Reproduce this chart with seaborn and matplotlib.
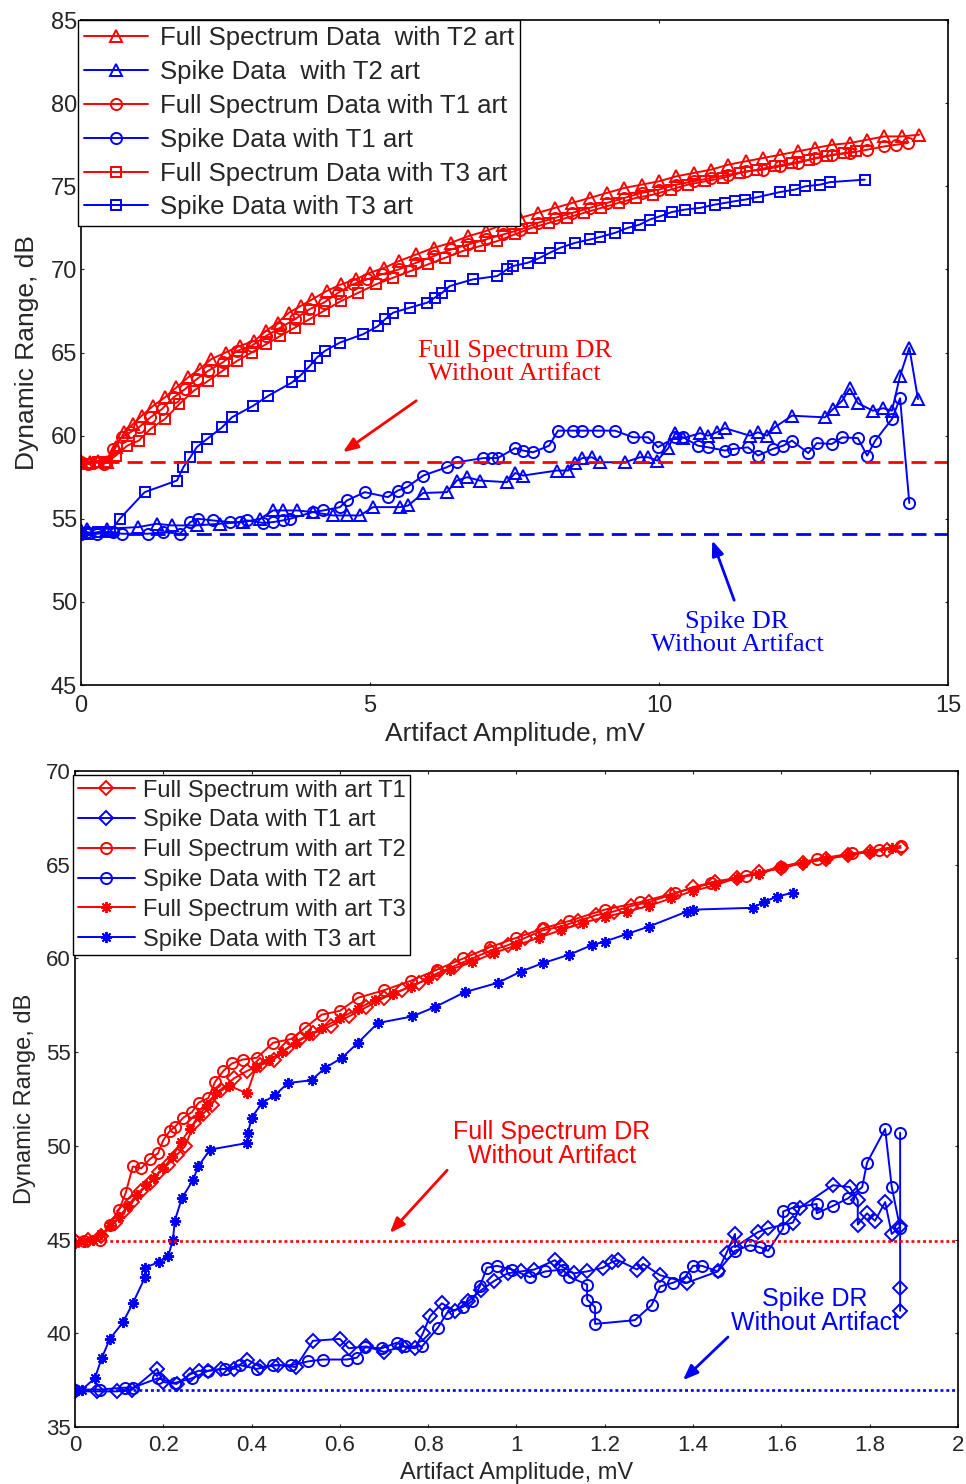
import matplotlib
matplotlib.use("Agg")
import matplotlib.pyplot as plt
import seaborn as sns
from matplotlib.ticker import FuncFormatter

# ---------------- data: top panel (artifact up to 15 mV) ----------------
top_fs_t2_x = [0, 0.15, 0.3, 0.45, 0.6, 0.75, 0.9, 1.05, 1.25, 1.45, 1.65, 1.85, 2.05, 2.25, 2.5, 2.75, 3.0, 3.2, 3.4, 3.6,
               3.8, 4.0, 4.25, 4.5, 4.75, 5.0, 5.25, 5.5, 5.8, 6.1, 6.4, 6.7, 7.0, 7.3, 7.6, 7.9, 8.2, 8.5, 8.8, 9.1,
               9.4, 9.7, 10.0, 10.3, 10.6, 10.9, 11.2, 11.5, 11.8, 12.1, 12.4, 12.7, 13.0, 13.3, 13.6, 13.9, 14.2, 14.5]
top_fs_t2_y = [58.5, 58.4, 58.5, 58.4, 59.3, 60.2, 60.7, 61.2, 61.8, 62.3, 62.9, 63.5, 64.0, 64.6, 65.0, 65.4, 65.7, 66.3, 66.8, 67.4,
               67.8, 68.2, 68.7, 69.1, 69.4, 69.8, 70.1, 70.5, 70.9, 71.3, 71.6, 72.0, 72.3, 72.7, 73.1, 73.4, 73.7, 74.0, 74.3, 74.6,
               74.9, 75.1, 75.3, 75.6, 75.8, 76.0, 76.3, 76.5, 76.7, 76.9, 77.1, 77.3, 77.5, 77.6, 77.8, 78.0, 78.0, 78.1]

top_sp_t2_x = [0, 0.1, 0.45, 0.99, 1.31, 1.57, 2.0, 2.4, 2.8, 3.1, 3.32, 3.49, 3.74, 4.01, 4.36, 4.6, 4.83, 5.05, 5.52, 5.66,
               5.92, 6.33, 6.5, 6.68, 6.9, 7.37, 7.51, 7.65, 8.23, 8.43, 8.55, 8.67, 8.84, 8.98, 9.41, 9.67, 9.81, 9.97, 10.16, 10.28,
               10.42, 10.71, 10.85, 11.0, 11.14, 11.57, 11.71, 11.87, 12.0, 12.3, 12.87, 13.01, 13.17, 13.3, 13.44, 13.7, 13.88, 14.03,
               14.17, 14.33, 14.48]
top_sp_t2_y = [54.3, 54.4, 54.4, 54.5, 54.7, 54.6, 54.6, 54.7, 54.8, 55.0, 55.5, 55.5, 55.5, 55.4, 55.2, 55.2, 55.2, 55.7, 55.7, 55.8,
               56.55, 56.6, 57.3, 57.5, 57.3, 57.2, 57.75, 57.6, 57.9, 57.9, 58.35, 58.65, 58.7, 58.4, 58.4, 58.7, 58.7, 58.5, 59.25, 60.15,
               59.85, 60.15, 60.0, 60.2, 60.45, 60.0, 60.2, 60.0, 60.5, 61.2, 61.1, 61.6, 62.1, 62.85, 61.95, 61.5, 61.65, 61.5,
               63.6, 65.3, 62.2]

top_fs_t1_x = [0, 0.12, 0.25, 0.4, 0.55, 0.7, 0.85, 1.0, 1.2, 1.4, 1.6, 1.8, 2.0, 2.2, 2.45, 2.7, 2.95, 3.2, 3.45, 3.7,
               3.95, 4.2, 4.45, 4.7, 4.95, 5.2, 5.5, 5.8, 6.1, 6.4, 6.7, 7.0, 7.3, 7.6, 7.9, 8.2, 8.5, 8.8, 9.1, 9.4,
               9.7, 10.0, 10.3, 10.6, 10.9, 11.2, 11.5, 11.8, 12.1, 12.4, 12.7, 13.0, 13.3, 13.6, 13.9, 14.1, 14.3]
top_fs_t1_y = [58.4, 58.3, 58.4, 58.3, 59.2, 59.9, 60.2, 60.5, 61.1, 61.6, 62.3, 62.8, 63.4, 63.9, 64.4, 65.1, 65.4, 66.0, 66.5, 67.0,
               67.6, 68.0, 68.6, 69.1, 69.4, 69.7, 70.0, 70.4, 70.8, 71.2, 71.5, 71.8, 72.1, 72.4, 72.8, 73.1, 73.4, 73.7, 74.0, 74.3,
               74.6, 74.8, 75.1, 75.3, 75.5, 75.7, 75.9, 76.0, 76.2, 76.4, 76.7, 76.9, 77.0, 77.2, 77.4, 77.5, 77.6]

top_sp_t1_x = [0, 0.1, 0.28, 0.55, 0.7, 1.16, 1.42, 1.71, 1.89, 2.02, 2.28, 2.58, 2.75, 2.87, 3.15, 3.32, 3.49, 3.62, 4.01, 4.19,
               4.48, 4.6, 4.91, 5.31, 5.48, 5.64, 5.92, 6.33, 6.5, 6.96, 7.11, 7.21, 7.51, 7.65, 7.82, 8.1, 8.25, 8.51, 8.67, 8.94,
               9.24, 9.55, 9.81, 9.98, 10.28, 10.42, 10.67, 10.85, 11.14, 11.28, 11.54, 11.71, 11.97, 12.15, 12.3, 12.58, 12.73, 12.99,
               13.17, 13.44, 13.6, 13.74, 14.03, 14.17, 14.33]
top_sp_t1_y = [54.1, 54.2, 54.1, 54.2, 54.1, 54.1, 54.2, 54.1, 54.8, 55.0, 54.9, 54.8, 54.8, 54.9, 54.75, 54.8, 54.9, 55.0, 55.4, 55.5,
               55.7, 56.1, 56.6, 56.3, 56.7, 56.9, 57.6, 58.1, 58.4, 58.65, 58.65, 58.65, 59.25, 59.1, 59.0, 59.4, 60.3, 60.3, 60.3, 60.3,
               60.3, 59.9, 59.9, 59.3, 59.9, 59.9, 59.4, 59.3, 59.1, 59.2, 59.3, 58.8, 59.2, 59.4, 59.7, 58.95, 59.55, 59.5,
               59.9, 59.85, 58.8, 59.7, 61.0, 62.25, 55.95]

top_fs_t3_x = [0, 0.15, 0.3, 0.45, 0.6, 0.8, 1.0, 1.2, 1.45, 1.7, 1.95, 2.2, 2.45, 2.7, 2.95, 3.2, 3.45, 3.7, 3.95, 4.2,
               4.5, 4.8, 5.1, 5.4, 5.7, 6.0, 6.3, 6.6, 6.9, 7.2, 7.5, 7.8, 8.1, 8.4, 8.7, 9.0, 9.3, 9.6, 9.9, 10.2,
               10.5, 10.8, 11.1, 11.4, 11.7, 12.0, 12.3, 12.6, 12.9, 13.2, 13.4]
top_fs_t3_y = [58.3, 58.3, 58.4, 58.4, 58.8, 59.4, 59.7, 60.4, 61.0, 61.9, 62.7, 63.3, 63.9, 64.5, 65.0, 65.5, 66.0, 66.5, 67.0, 67.5,
               68.1, 68.6, 69.1, 69.5, 69.9, 70.3, 70.7, 71.1, 71.4, 71.7, 72.1, 72.5, 72.8, 73.1, 73.4, 73.7, 74.0, 74.3, 74.5, 74.8,
               75.1, 75.3, 75.5, 75.8, 76.0, 76.2, 76.4, 76.6, 76.8, 77.0, 77.1]

top_sp_t3_x = [0, 0.12, 0.3, 0.5, 0.67, 1.1, 1.66, 1.77, 1.89, 2.0, 2.18, 2.44, 2.61, 2.98, 3.24, 3.65, 3.79, 3.96, 4.08, 4.22,
               4.48, 4.88, 5.14, 5.26, 5.4, 5.69, 5.99, 6.12, 6.25, 6.38, 6.78, 7.2, 7.37, 7.47, 7.73, 7.94, 8.11, 8.29, 8.55, 8.81,
               8.98, 9.24, 9.46, 9.67, 9.84, 10.02, 10.22, 10.45, 10.71, 10.97, 11.14, 11.31, 11.49, 11.71, 12.09, 12.35, 12.53, 12.79,
               12.96, 13.56]
top_sp_t3_y = [54.1, 54.1, 54.2, 54.2, 55.0, 56.6, 57.3, 58.1, 58.7, 59.3, 59.8, 60.5, 61.1, 61.8, 62.4, 63.2, 63.6, 64.2, 64.7, 65.1,
               65.6, 66.1, 66.6, 67.0, 67.4, 67.7, 68.0, 68.3, 68.6, 69.0, 69.4, 69.6, 70.0, 70.2, 70.4, 70.7, 71.0, 71.3, 71.6, 71.8,
               71.95, 72.2, 72.5, 72.7, 73.0, 73.2, 73.45, 73.6, 73.7, 73.9, 74.0, 74.1, 74.2, 74.35, 74.65, 74.8, 75.0, 75.1,
               75.25, 75.4]

top_labels = ["Full Spectrum Data  with T2 art", "Spike Data  with T2 art",
              "Full Spectrum Data with T1 art", "Spike Data with T1 art",
              "Full Spectrum Data with T3 art", "Spike Data with T3 art"]
top_fs_baseline = 58.4
top_sp_baseline = 54.1
top_xticks = [0, 5, 10, 15]
top_yticks = [45, 50, 55, 60, 65, 70, 75, 80, 85]

# ---------------- data: bottom panel (artifact up to 2 mV) ----------------
bot_fs_t1_x = [0.0, 0.03, 0.06, 0.09, 0.11, 0.13, 0.15, 0.17, 0.19, 0.21, 0.23, 0.25, 0.27, 0.29, 0.31, 0.33, 0.36, 0.39, 0.42, 0.45,
               0.48, 0.51, 0.54, 0.58, 0.62, 0.66, 0.70, 0.74, 0.78, 0.82, 0.86, 0.90, 0.94, 0.98, 1.02, 1.06, 1.10, 1.14, 1.18, 1.22,
               1.26, 1.30, 1.35, 1.40, 1.45, 1.50, 1.55, 1.60, 1.65, 1.70, 1.75, 1.80, 1.84, 1.87]
bot_fs_t1_y = [44.9, 45.0, 45.2, 45.9, 46.5, 47.0, 47.6, 48.0, 48.6, 49.0, 49.5, 50.0, 51.2, 51.7, 52.2, 53.0, 53.6, 54.0, 54.3, 54.6,
               55.2, 55.7, 56.0, 56.4, 56.9, 57.4, 57.9, 58.3, 58.7, 59.2, 59.6, 60.0, 60.4, 60.7, 61.1, 61.5, 61.7, 62.0, 62.3, 62.5,
               62.8, 63.0, 63.4, 63.8, 64.1, 64.3, 64.6, 64.8, 65.1, 65.3, 65.5, 65.7, 65.8, 65.9]

bot_sp_t1_x = [0.0, 0.05, 0.095, 0.13, 0.186, 0.2, 0.23, 0.26, 0.28, 0.302, 0.33, 0.36, 0.39, 0.42, 0.46, 0.5, 0.539, 0.6, 0.62, 0.66,
               0.7, 0.74, 0.77, 0.788, 0.804, 0.831, 0.86, 0.89, 0.92, 0.95, 0.98, 1.01, 1.04, 1.087, 1.1, 1.13, 1.16, 1.196, 1.216, 1.23,
               1.273, 1.287, 1.325, 1.386, 1.456, 1.476, 1.495, 1.495, 1.547, 1.57, 1.626, 1.642, 1.717, 1.755, 1.773, 1.773, 1.794,
               1.812, 1.835, 1.85, 1.869, 1.869, 1.869]
bot_sp_t1_y = [36.9, 36.9, 36.9, 37.0, 38.1, 37.4, 37.3, 37.8, 38.0, 38.0, 38.1, 38.1, 38.6, 38.2, 38.3, 38.2, 39.6, 39.7, 39.2, 39.3,
               39.0, 39.3, 39.2, 40.0, 40.9, 41.6, 41.2, 41.7, 42.3, 42.8, 43.2, 43.3, 43.4, 43.9, 43.6, 43.2, 43.3, 43.5, 43.8, 43.9,
               43.4, 43.7, 43.1, 42.7, 43.3, 44.3, 45.3, 44.6, 45.4, 45.6, 45.9, 46.7, 47.9, 47.8, 47.1, 45.8, 46.4,
               46.0, 47.0, 45.3, 45.7, 42.4, 41.2]

bot_fs_t2_x = [0.0, 0.02, 0.057, 0.08, 0.1, 0.115, 0.131, 0.15, 0.17, 0.188, 0.2, 0.215, 0.226, 0.245, 0.265, 0.28, 0.302, 0.317, 0.336,
               0.356, 0.38, 0.412, 0.449, 0.49, 0.521, 0.559, 0.6, 0.641, 0.7, 0.76, 0.82, 0.88, 0.94, 1.0, 1.06, 1.12, 1.2, 1.28,
               1.36, 1.44, 1.52, 1.6, 1.68, 1.76, 1.82, 1.87]
bot_fs_t2_y = [44.9, 44.9, 45.0, 45.8, 46.6, 47.5, 48.9, 48.8, 49.3, 49.6, 50.3, 50.8, 51.0, 51.5, 51.8, 52.3, 52.55, 53.4, 54.0,
               54.4, 54.6, 54.7, 55.5, 55.7, 56.3, 57.0, 57.2, 57.9, 58.3, 58.8, 59.4, 60.0, 60.6, 61.1, 61.6, 62.0, 62.6, 63.0,
               63.5, 64.0, 64.4, 64.9, 65.3, 65.6, 65.8, 66.0]

bot_sp_t2_x = [0.0, 0.057, 0.113, 0.131, 0.188, 0.226, 0.265, 0.302, 0.34, 0.374, 0.412, 0.449, 0.49, 0.528, 0.562, 0.616, 0.639, 0.657,
               0.695, 0.729, 0.747, 0.786, 0.822, 0.843, 0.879, 0.899, 0.917, 0.933, 0.956, 0.99, 1.03, 1.065, 1.105, 1.12, 1.16, 1.16,
               1.178, 1.178, 1.268, 1.306, 1.325, 1.355, 1.382, 1.4, 1.42, 1.456, 1.495, 1.529, 1.551, 1.57, 1.604, 1.604, 1.626, 1.68,
               1.68, 1.717, 1.751, 1.783, 1.794, 1.835, 1.85, 1.869, 1.869]
bot_sp_t2_y = [37.0, 37.0, 37.1, 37.1, 37.6, 37.35, 37.6, 38.0, 38.1, 38.3, 38.1, 38.3, 38.3, 38.5, 38.6, 38.6, 38.7, 39.25,
               39.2, 39.5, 39.3, 39.3, 40.3, 41.1, 41.4, 41.7, 42.5, 43.5, 43.6, 43.4, 43.0, 43.3, 43.4, 43.0, 42.6, 41.8,
               41.4, 40.5, 40.7, 41.5, 42.5, 42.7, 43.0, 43.6, 43.6, 43.3, 44.4, 44.7, 44.6, 44.4, 45.6, 46.5, 46.7, 46.9,
               46.4, 46.8, 47.2, 47.8, 49.1, 50.9, 47.8, 45.6, 50.7]

bot_fs_t3_x = [0.0, 0.02, 0.04, 0.06, 0.08, 0.1, 0.12, 0.14, 0.16, 0.18, 0.2, 0.22, 0.24, 0.26, 0.28, 0.3, 0.32, 0.35, 0.39, 0.41,
               0.44, 0.47, 0.5, 0.53, 0.56, 0.6, 0.64, 0.68, 0.72, 0.76, 0.8, 0.85, 0.9, 0.95, 1.0, 1.05, 1.1, 1.15, 1.2, 1.25,
               1.3, 1.35, 1.4, 1.45, 1.5, 1.55, 1.6, 1.65, 1.7, 1.75, 1.8, 1.85]
bot_fs_t3_y = [44.8, 44.9, 45.0, 45.3, 45.7, 46.2, 46.8, 47.4, 47.9, 48.3, 48.8, 49.4, 50.2, 50.9, 51.6, 52.2, 52.8, 53.2, 52.8, 54.2,
               54.6, 55.0, 55.5, 55.9, 56.3, 56.8, 57.3, 57.8, 58.1, 58.5, 58.9, 59.4, 59.8, 60.3, 60.7, 61.1, 61.5, 61.9, 62.2, 62.5,
               62.8, 63.2, 63.6, 63.9, 64.3, 64.5, 64.9, 65.1, 65.3, 65.5, 65.7, 65.9]

bot_sp_t3_x = [0.0, 0.016, 0.045, 0.061, 0.079, 0.109, 0.131, 0.159, 0.159, 0.19, 0.211, 0.222, 0.226, 0.242, 0.268, 0.279, 0.306,
               0.39, 0.392, 0.4, 0.424, 0.453, 0.482, 0.536, 0.566, 0.605, 0.641, 0.686, 0.763, 0.815, 0.883, 0.958, 1.01, 1.06,
               1.12, 1.17, 1.2, 1.25, 1.3, 1.386, 1.4, 1.536, 1.56, 1.59, 1.626]
bot_sp_t3_y = [36.9, 37.0, 37.6, 38.7, 39.7, 40.6, 41.6, 43.0, 43.5, 43.8, 44.1, 45.0, 46.0, 47.2, 48.2, 48.9, 49.8,
               50.15, 50.7, 51.5, 52.3, 52.7, 53.35, 53.5, 54.15, 54.7, 55.5, 56.55, 56.9, 57.4, 58.2, 58.7, 59.3, 59.75,
               60.2, 60.7, 60.9, 61.3, 61.7, 62.5, 62.6, 62.7, 63.0, 63.3, 63.5]

bot_labels = ["Full Spectrum with art T1", "Spike Data with T1 art",
              "Full Spectrum with art T2", "Spike Data with T2 art",
              "Full Spectrum with art T3", "Spike Data with T3 art"]
bot_fs_baseline = 44.95
bot_sp_baseline = 36.95
bot_xticks = [0, 0.2, 0.4, 0.6, 0.8, 1, 1.2, 1.4, 1.6, 1.8, 2]
bot_yticks = [35, 40, 45, 50, 55, 60, 65, 70]

# ---------------- style ----------------
sns.set_style("ticks")
plt.rcParams['font.family'] = ['Liberation Sans', 'DejaVu Sans']

RED = "#FF0000"
BLUE = "#0000FF"
ASTERISK = (8, 2, 0)  # matlab-style '*' marker


def draw_series(ax, x, y, color, marker, label, ms=8):
    sns.lineplot(x=x, y=y, ax=ax, sort=False, estimator=None, color=color, marker=marker,
                 markersize=ms, markerfacecolor='none', markeredgecolor=color,
                 markeredgewidth=1.4, linewidth=1.4, label=label, legend=False)


def style_axes(ax, xticks, yticks, tick_fs, label_fs, xpad, ylabpad):
    ax.set_xticks(xticks)
    ax.set_yticks(yticks)
    ax.set_xlim(xticks[0], xticks[-1])
    ax.set_ylim(yticks[0], yticks[-1])
    ax.xaxis.set_major_formatter(FuncFormatter(lambda v, p: f"{v:g}"))
    ax.tick_params(direction='in', top=True, right=True, length=2.5, width=0.8,
                   labelsize=tick_fs, pad=3)
    ax.tick_params(axis='x', pad=xpad)
    for sp in ax.spines.values():
        sp.set_visible(True)
        sp.set_linewidth(1.2)
        sp.set_color('black')
    ax.set_xlabel("Artifact Amplitude, mV", fontsize=label_fs, labelpad=4)
    ax.set_ylabel("Dynamic Range, dB", fontsize=label_fs, labelpad=ylabpad)


fig = plt.figure(figsize=(9.66, 14.84), dpi=100)
ax1 = fig.add_axes([0.0839, 0.5384, 0.8975, 0.4481])
ax2 = fig.add_axes([0.0776, 0.0384, 0.9141, 0.4421])

arrow_red = dict(arrowstyle='-|>,head_length=0.9,head_width=0.35', color=RED, lw=2, shrinkA=0, shrinkB=0)
arrow_blue = dict(arrowstyle='-|>,head_length=0.9,head_width=0.35', color=BLUE, lw=2, shrinkA=0, shrinkB=0)

# ---------------- top panel ----------------
draw_series(ax1, top_fs_t2_x, top_fs_t2_y, RED, '^', top_labels[0])
draw_series(ax1, top_sp_t2_x, top_sp_t2_y, BLUE, '^', top_labels[1])
draw_series(ax1, top_fs_t1_x, top_fs_t1_y, RED, 'o', top_labels[2])
draw_series(ax1, top_sp_t1_x, top_sp_t1_y, BLUE, 'o', top_labels[3])
draw_series(ax1, top_fs_t3_x, top_fs_t3_y, RED, 's', top_labels[4], ms=7)
draw_series(ax1, top_sp_t3_x, top_sp_t3_y, BLUE, 's', top_labels[5], ms=7)
ax1.axhline(top_fs_baseline, color=RED, lw=2.0, dashes=(5.4, 2.9))
ax1.axhline(top_sp_baseline, color=BLUE, lw=2.0, dashes=(5.4, 2.9))
style_axes(ax1, top_xticks, top_yticks, 17, 19, xpad=7, ylabpad=8)

ax1.text(7.5, 64.4, "Full Spectrum DR\nWithout Artifact", color=RED, ha='center', va='center',
         family='Liberation Serif', fontsize=19, linespacing=1.1)
ax1.annotate("", xy=(4.53, 59.0), xytext=(5.8, 62.1), arrowprops=arrow_red)
ax1.text(11.35, 48.1, "Spike DR\nWithout Artifact", color=BLUE, ha='center', va='center',
         family='Liberation Serif', fontsize=19, linespacing=1.1)
ax1.annotate("", xy=(10.92, 53.7), xytext=(11.3, 50.1), arrowprops=arrow_blue)

leg1 = ax1.legend(loc='upper left', bbox_to_anchor=(-0.004, 1.0), borderaxespad=0, fancybox=False,
                  framealpha=1, edgecolor='black', handlelength=2.5, handletextpad=0.45,
                  labelspacing=0.38, borderpad=0.25, prop={'size': 18.5})
leg1.get_frame().set_linewidth(1.0)

# ---------------- bottom panel ----------------
draw_series(ax2, bot_fs_t1_x, bot_fs_t1_y, RED, 'D', bot_labels[0], ms=7)
draw_series(ax2, bot_sp_t1_x, bot_sp_t1_y, BLUE, 'D', bot_labels[1], ms=7)
draw_series(ax2, bot_fs_t2_x, bot_fs_t2_y, RED, 'o', bot_labels[2])
draw_series(ax2, bot_sp_t2_x, bot_sp_t2_y, BLUE, 'o', bot_labels[3])
draw_series(ax2, bot_fs_t3_x, bot_fs_t3_y, RED, ASTERISK, bot_labels[4], ms=8)
draw_series(ax2, bot_sp_t3_x, bot_sp_t3_y, BLUE, ASTERISK, bot_labels[5], ms=8)
ax2.axhline(bot_fs_baseline, color=RED, lw=1.9, dashes=(1.1, 1.1))
ax2.axhline(bot_sp_baseline, color=BLUE, lw=1.9, dashes=(1.1, 1.1))
style_axes(ax2, bot_xticks, bot_yticks, 16, 17, xpad=6, ylabpad=7)

ax2.text(1.08, 50.1, "Full Spectrum DR\nWithout Artifact", color=RED, ha='center', va='center',
         fontsize=18, linespacing=1.0)
ax2.annotate("", xy=(0.713, 45.35), xytext=(0.843, 48.7), arrowprops=arrow_red)
ax2.text(1.676, 41.2, "Spike DR\nWithout Artifact", color=BLUE, ha='center', va='center',
         fontsize=18, linespacing=1.0)
ax2.annotate("", xy=(1.377, 37.5), xytext=(1.479, 39.8), arrowprops=arrow_blue)

leg2 = ax2.legend(loc='upper left', bbox_to_anchor=(-0.002, 0.994), borderaxespad=0, fancybox=False,
                  framealpha=1, edgecolor='black', handlelength=2.4, handletextpad=0.35,
                  labelspacing=0.33, borderpad=0.2, prop={'size': 17})
leg2.get_frame().set_linewidth(1.0)

fig.savefig("out.png", dpi=100)
